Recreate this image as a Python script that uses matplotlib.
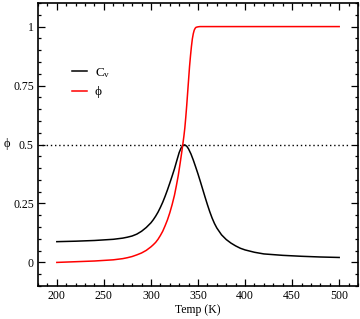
import numpy as np
import matplotlib
matplotlib.use("Agg")
import matplotlib.pyplot as plt
from matplotlib.ticker import MultipleLocator, FixedLocator

plt.rcParams['font.family'] = ['Liberation Serif', 'DejaVu Serif']
plt.rcParams['mathtext.fontset'] = 'custom'
plt.rcParams['mathtext.rm'] = 'Liberation Serif'
plt.rcParams['mathtext.it'] = 'Liberation Serif:italic'

# specific heat (scaled)
temp_cv = [200, 220, 240, 260, 270, 275, 280, 285, 290, 295, 300, 302.5, 305,
           307.5, 310, 312.5, 315, 317.5, 320, 322.5, 325, 327.5, 330, 332,
           334, 335, 336, 338, 340, 342.5, 345, 347.5, 350, 352.5, 355, 357.5,
           360, 362.5, 365, 367.5, 370, 375, 380, 385, 390, 395, 400, 410,
           420, 440, 460, 480, 500]
cv = [0.088, 0.090, 0.093, 0.098, 0.103, 0.107, 0.112, 0.120, 0.132, 0.148,
      0.168, 0.181, 0.196, 0.213, 0.233, 0.255, 0.280, 0.307, 0.336, 0.366,
      0.397, 0.432, 0.466, 0.485, 0.495, 0.498, 0.498, 0.493, 0.481, 0.460,
      0.434, 0.405, 0.375, 0.343, 0.310, 0.277, 0.245, 0.215, 0.188, 0.165,
      0.146, 0.117, 0.097, 0.082, 0.070, 0.060, 0.053, 0.043, 0.036, 0.030,
      0.026, 0.023, 0.021]

# order parameter phi
temp_phi = [200, 220, 240, 260, 270, 275, 280, 285, 290, 295, 300, 302.5, 305,
            307.5, 310, 312.5, 315, 317.5, 320, 322.5, 325, 327, 329, 331,
            333, 334, 335, 336, 337, 338, 339, 340, 341, 342, 343, 344, 345,
            346, 347, 348, 350, 352, 360, 400, 450, 500]
phi = [0.000, 0.003, 0.006, 0.011, 0.016, 0.020, 0.025, 0.032, 0.040, 0.051,
       0.066, 0.075, 0.085, 0.098, 0.114, 0.132, 0.155, 0.180, 0.210, 0.245,
       0.285, 0.325, 0.368, 0.420, 0.475, 0.505, 0.535, 0.570, 0.615, 0.665,
       0.720, 0.775, 0.830, 0.875, 0.915, 0.948, 0.970, 0.985, 0.993, 0.997,
       0.999, 1.0, 1.0, 1.0, 1.0, 1.0]

fig = plt.figure(figsize=(3.6, 3.19), dpi=100)
ax = fig.add_axes([38 / 360, 1 - 286 / 319, 320 / 360, 283 / 319])

ax.plot(temp_cv, cv, color='black', lw=1.1, label=r'C$_\mathrm{v}$')
ax.plot(temp_phi, phi, color='#ff0000', lw=1.1, label='ϕ')
ax.plot([184, 510], [0.5, 0.5], color='black', lw=1.0, ls=(0, (1, 2)))

ax.set_xlim(180, 520)
ax.set_ylim(-0.1, 1.1)
ax.xaxis.set_major_locator(FixedLocator([200, 250, 300, 350, 400, 450, 500]))
ax.xaxis.set_minor_locator(MultipleLocator(10))
ax.set_yticks([0, 0.25, 0.5, 0.75, 1])
ax.set_yticklabels(['0', '0.25', '0.5', '0.75', '1'])
ax.yaxis.set_minor_locator(MultipleLocator(0.05))

ax.tick_params(which='both', direction='in', top=True, right=True,
               labelsize=8.5, width=0.9)
ax.tick_params(which='major', length=5, pad=3)
ax.tick_params(which='minor', length=2.5)
for s in ax.spines.values():
    s.set_linewidth(1.2)

ax.set_xlabel('Temp (K)', fontsize=8.5, labelpad=1)
ax.set_ylabel('ϕ', fontsize=9, rotation=0, va='center', ha='center')
ax.yaxis.set_label_coords(-0.097, 0.5)

ax.legend(loc='upper left', bbox_to_anchor=(0.07, 0.82), frameon=False,
          fontsize=9.5, handlelength=1.1, handletextpad=0.6, labelspacing=0.5)

fig.savefig('out.png', dpi=100)
